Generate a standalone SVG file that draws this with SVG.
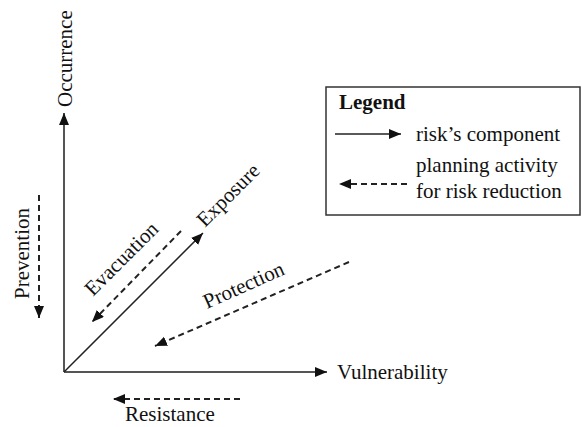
<svg xmlns="http://www.w3.org/2000/svg" width="582" height="427" viewBox="0 0 582 427">
<style>
text{font-family:"Liberation Serif","Times New Roman",serif;font-size:21px;fill:#111}
.b{font-weight:bold}
.axis{stroke:#555;stroke-width:2;fill:none}
.solid{stroke:#222;stroke-width:1.5;fill:none}
.dash{stroke:#222;stroke-width:2;fill:none;stroke-dasharray:6,4}
</style>
<defs>
<marker id="ah" markerUnits="userSpaceOnUse" markerWidth="13" markerHeight="11" refX="12" refY="5" orient="auto">
<path d="M0,0 L12,5 L0,10 z" fill="#111"/>
</marker>
</defs>
<rect width="582" height="427" fill="#fff"/>
<g id="connectors">
<line class="axis" x1="64" y1="372" x2="64" y2="113" marker-end="url(#ah)"/>
<line class="axis" x1="64" y1="372" x2="327" y2="372" marker-end="url(#ah)"/>
<line class="solid" x1="64" y1="372" x2="203" y2="233" marker-end="url(#ah)"/>
<line class="dash" x1="181" y1="231" x2="92" y2="322" marker-end="url(#ah)"/>
<line class="dash" x1="349" y1="262" x2="155" y2="346" marker-end="url(#ah)"/>
<line class="dash" x1="39" y1="195" x2="39" y2="318" marker-end="url(#ah)"/>
<line class="dash" x1="240" y1="399" x2="113" y2="399" marker-end="url(#ah)"/>
</g>
<g id="occurrence"><text transform="translate(72,107) rotate(-90)">Occurrence</text></g>
<g id="vulnerability"><text x="337" y="379">Vulnerability</text></g>
<g id="exposure"><text transform="translate(205,228) rotate(-45)">Exposure</text></g>
<g id="evacuation"><text transform="translate(93,297) rotate(-45)">Evacuation</text></g>
<g id="protection"><text transform="translate(207,309) rotate(-24)">Protection</text></g>
<g id="prevention"><text transform="translate(29,299) rotate(-90)">Prevention</text></g>
<g id="resistance"><text x="125" y="421">Resistance</text></g>
<g id="legend">
<rect x="326" y="87" width="254" height="128" fill="#fff" stroke="#333" stroke-width="1.5"/>
<text class="b" x="339" y="109">Legend</text>
<line class="solid" x1="335" y1="134" x2="401" y2="134" marker-end="url(#ah)"/>
<text x="416" y="141">risk’s component</text>
<line class="dash" x1="407" y1="184" x2="339" y2="184" marker-end="url(#ah)"/>
<text x="416" y="172">planning activity</text>
<text x="416" y="198">for risk reduction</text>
</g>
</svg>
